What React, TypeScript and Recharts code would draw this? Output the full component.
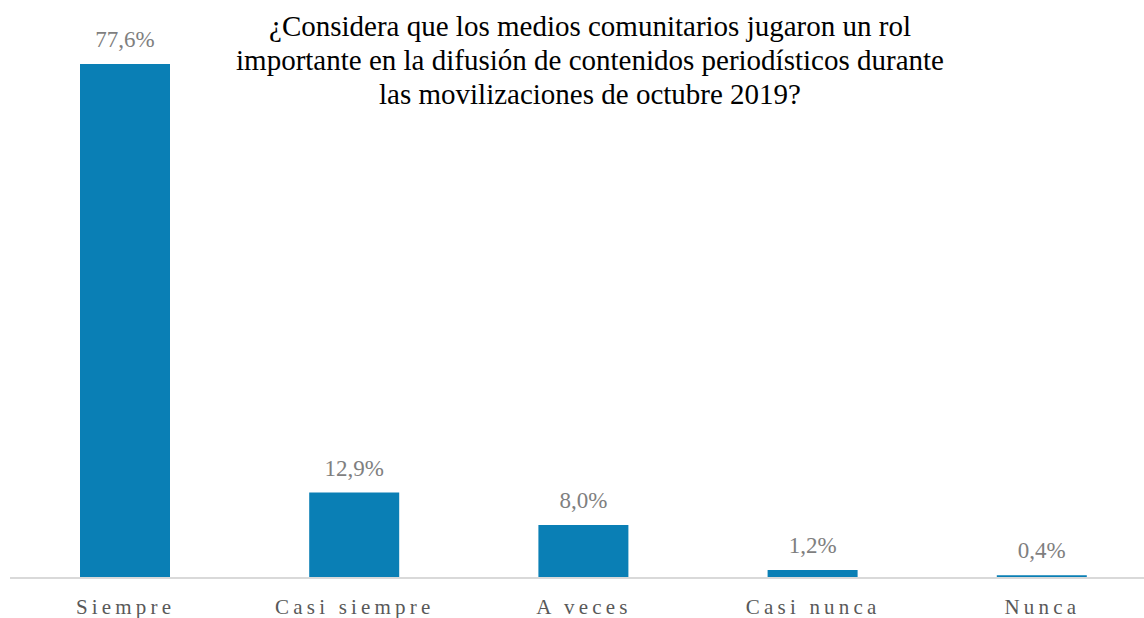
import { BarChart, Bar, XAxis, YAxis, LabelList } from 'recharts';

const categories = ['Siempre', 'Casi siempre', 'A veces', 'Casi nunca', 'Nunca'];
const values = [77.6, 12.9, 8.0, 1.2, 0.4];
const titleLines = [
    '¿Considera que los medios comunitarios jugaron un rol',
    'importante en la difusión de contenidos periodísticos durante',
    'las movilizaciones de octubre 2019?',
];

const data = categories.map((name, i) => ({ name, value: values[i] }));

const FONT = '"Liberation Serif", "Times New Roman", serif';

const CategoryTick = (props: any) => {
    const { x, y, payload } = props;
    return (
        <text
            x={x + 1}
            y={y + 28}
            textAnchor="middle"
            fill="#595959"
            fontFamily={FONT}
            fontSize={21}
            letterSpacing={4.2}
        >
            {payload.value}
        </text>
    );
};

export default function App() {
    return (
        <div style={{ position: 'absolute', left: 0, top: 0, width: 1144, height: 618, overflow: 'hidden', background: '#fff' }}>
            <BarChart
                width={1156}
                height={618}
                data={data}
                margin={{ top: 48, right: 0, bottom: 0, left: 10 }}
                barCategoryGap={0}
            >
                <XAxis
                    dataKey="name"
                    axisLine={{ stroke: '#d9d9d9', strokeWidth: 2 }}
                    tickLine={false}
                    height={40}
                    tick={<CategoryTick />}
                    interval={0}
                />
                <YAxis hide domain={[0, 80]} />
                <Bar dataKey="value" fill="#0a7fb5" barSize={90} isAnimationActive={false}>
                    <LabelList
                        dataKey="value"
                        position="top"
                        offset={17}
                        fill="#7f7f7f"
                        fontFamily={FONT}
                        fontSize={23}
                        formatter={(v: any) => `${Number(v).toFixed(1).replace('.', ',')}%`}
                    />
                </Bar>
            </BarChart>
            <div
                style={{
                    position: 'absolute',
                    left: 140,
                    top: 9,
                    width: 900,
                    textAlign: 'center',
                    fontFamily: FONT,
                    fontSize: 29,
                    lineHeight: '34px',
                    color: '#000',
                }}
            >
                {titleLines.map((line) => (
                    <div key={line}>{line}</div>
                ))}
            </div>
        </div>
    );
}
